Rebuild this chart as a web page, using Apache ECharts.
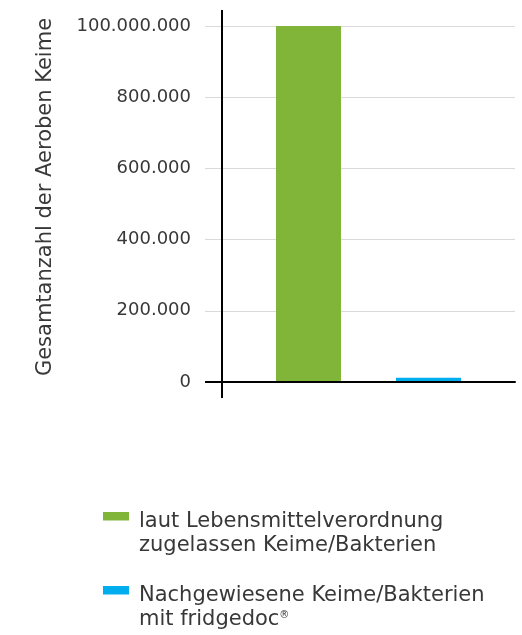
<!DOCTYPE html>
<html>
<head>
<meta charset="utf-8">
<script src="https://cdn.jsdelivr.net/npm/echarts@6/dist/echarts.min.js"></script>
<style>
html,body{margin:0;padding:0;background:#fff;}
#c{width:522px;height:635px;}
</style>
</head>
<body>
<div id="c"></div>
<script>
const categories = [''];
const seriesNames = [
  'laut Lebensmittelverordnung\nzugelassen Keime/Bakterien',
  'Nachgewiesene Keime/Bakterien\nmit fridgedoc®'
];
const allowedValues = [1000000];
const detectedValues = [12000];
const tickLabels = ['0', '200.000', '400.000', '600.000', '800.000', '100.000.000'];
const yAxisTitle = 'Gesamtanzahl der Aeroben Keime';

const FONT = '"DejaVu Sans", "Open Sans", sans-serif';
const TXT = '#383838';
const GREEN = '#80b53a';
const BLUE = '#00aeef';

const gridL = 222, gridT = 26, gridR = 7, gridB = 253;
const W = 522, H = 635;

const chart = echarts.init(document.getElementById('c'), null, {renderer: 'canvas'});
const iconPath = 'path://M0,4h26v8.5h-26z M0,47.9h0.1v0.1h-0.1z';

chart.setOption({
  animation: false,
  backgroundColor: '#fff',
  grid: {left: gridL, top: gridT, right: gridR, bottom: gridB, containLabel: false},
  xAxis: {
    type: 'category',
    data: categories,
    axisLine: {show: true, lineStyle: {color: '#000', width: 2}},
    axisTick: {show: false},
    axisLabel: {show: false}
  },
  yAxis: {
    type: 'value',
    min: 0, max: 1000000, interval: 200000,
    name: yAxisTitle,
    nameLocation: 'middle',
    nameRotate: 90,
    nameGap: 166,
    nameTextStyle: {fontFamily: FONT, fontSize: 21, color: TXT, padding: [0, 0, 0, 14]},
    axisLine: {show: true, lineStyle: {color: '#000', width: 2}},
    axisTick: {show: true, length: 17, lineStyle: {color: '#d9d9d9', width: 1}},
    splitLine: {show: true, lineStyle: {color: '#d9d9d9', width: 1}},
    axisLabel: {
      margin: 31,
      fontFamily: FONT, fontSize: 18, color: TXT,
      formatter: function (v) { return tickLabels[Math.round(v / 200000)]; }
    }
  },
  legend: {
    orient: 'vertical',
    left: 103,
    top: 510,
    padding: 0,
    itemWidth: 26,
    itemHeight: 48,
    itemGap: 26,
    icon: iconPath,
    formatter: function (n) { return n.replace('®', '{sup|®}'); },
    textStyle: {
      fontFamily: FONT, fontSize: 21, color: TXT, lineHeight: 24, padding: [0, 0, 0, 5],
      rich: {sup: {fontFamily: FONT, fontSize: 10, color: TXT, lineHeight: 24, padding: [0, 0, 9, 0]}}
    },
    data: seriesNames
  },
  series: [
    {name: seriesNames[0], type: 'bar', data: allowedValues, barWidth: 65, barGap: '84.6%', itemStyle: {color: GREEN}},
    {name: seriesNames[1], type: 'bar', data: detectedValues, barWidth: 65, barGap: '84.6%', itemStyle: {color: BLUE}}
  ]
});

// axis line extensions (decoration)
const y0 = chart.convertToPixel({yAxisIndex: 0}, 0);
const yTop = chart.convertToPixel({yAxisIndex: 0}, 1000000);
chart.setOption({
  graphic: [
    {type: 'line', shape: {x1: gridL, y1: yTop - 16, x2: gridL, y2: y0 + 16}, style: {stroke: '#000', lineWidth: 2}, z: 10},
    {type: 'line', shape: {x1: gridL - 17, y1: y0, x2: W - gridR, y2: y0}, style: {stroke: '#000', lineWidth: 2}, z: 10}
  ]
});
</script>
</body>
</html>
